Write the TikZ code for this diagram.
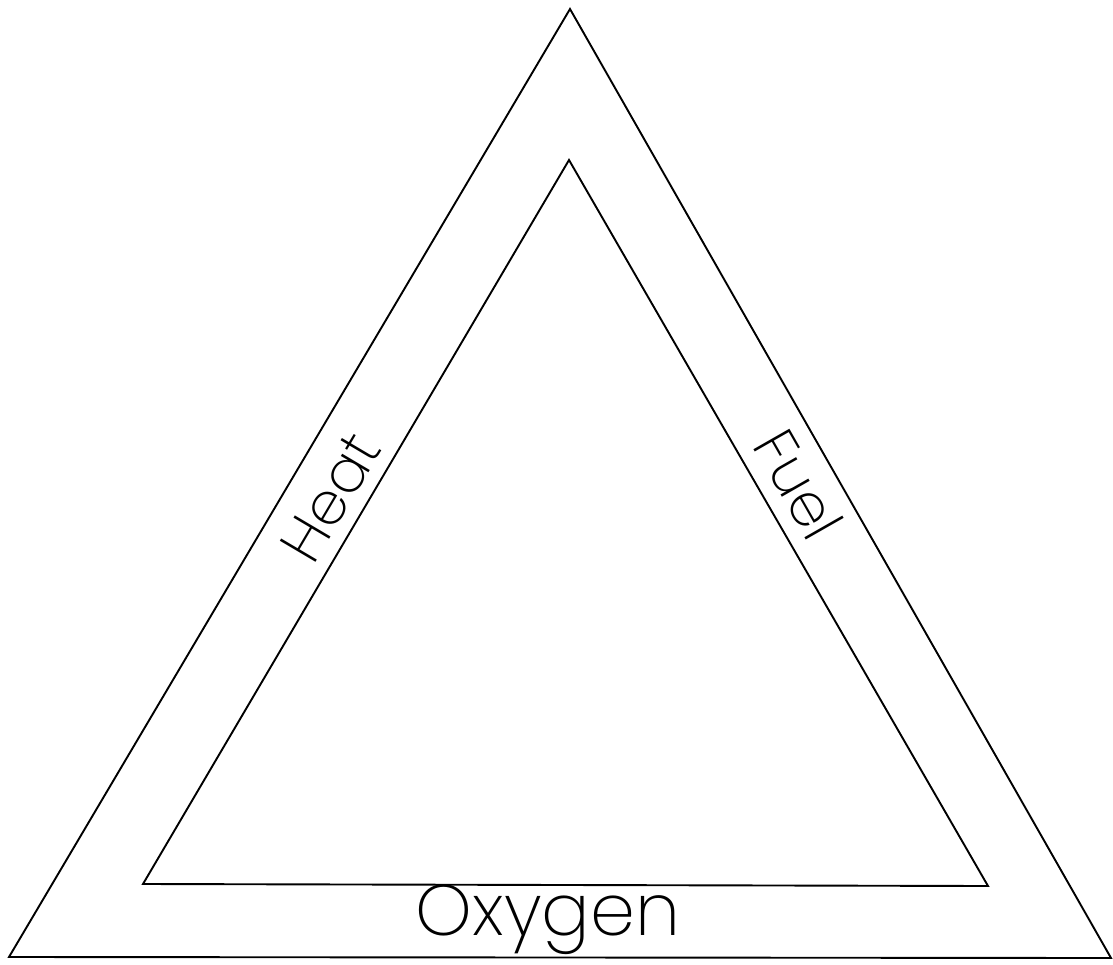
\documentclass[tikz,border=0pt]{standalone}
\usepackage{fontspec}
\newfontfamily\lbl{Poppins ExtraLight}
\begin{document}
\begin{tikzpicture}[x=1pt,y=-1pt,
  edge/.style={draw=black,line width=1.9pt,line join=miter},
  label/.style={font=\lbl\fontsize{59}{59}\selectfont,inner sep=0pt,anchor=center}]
\useasboundingbox (0,0) rectangle (1113,965);
\coordinate (OA) at (570,9);
\coordinate (OL) at (9,957);
\coordinate (OR) at (1111,958);
\coordinate (IA) at (569,160);
\coordinate (IL) at (143,884);
\coordinate (IR) at (988,886);
\draw[edge] (OA) -- (OL) -- (OR) -- cycle;
\draw[edge] (IA) -- (IL) -- (IR) -- cycle;
\node[label,rotate=59.4] (heat) at (331,497) {Heat};
\node[label,rotate=-60.3] (fuel) at (799,484) {Fuel};
\node[label,font=\lbl\fontsize{72}{72}\selectfont] (oxy) at (548,920) {Oxygen};
\end{tikzpicture}
\end{document}
